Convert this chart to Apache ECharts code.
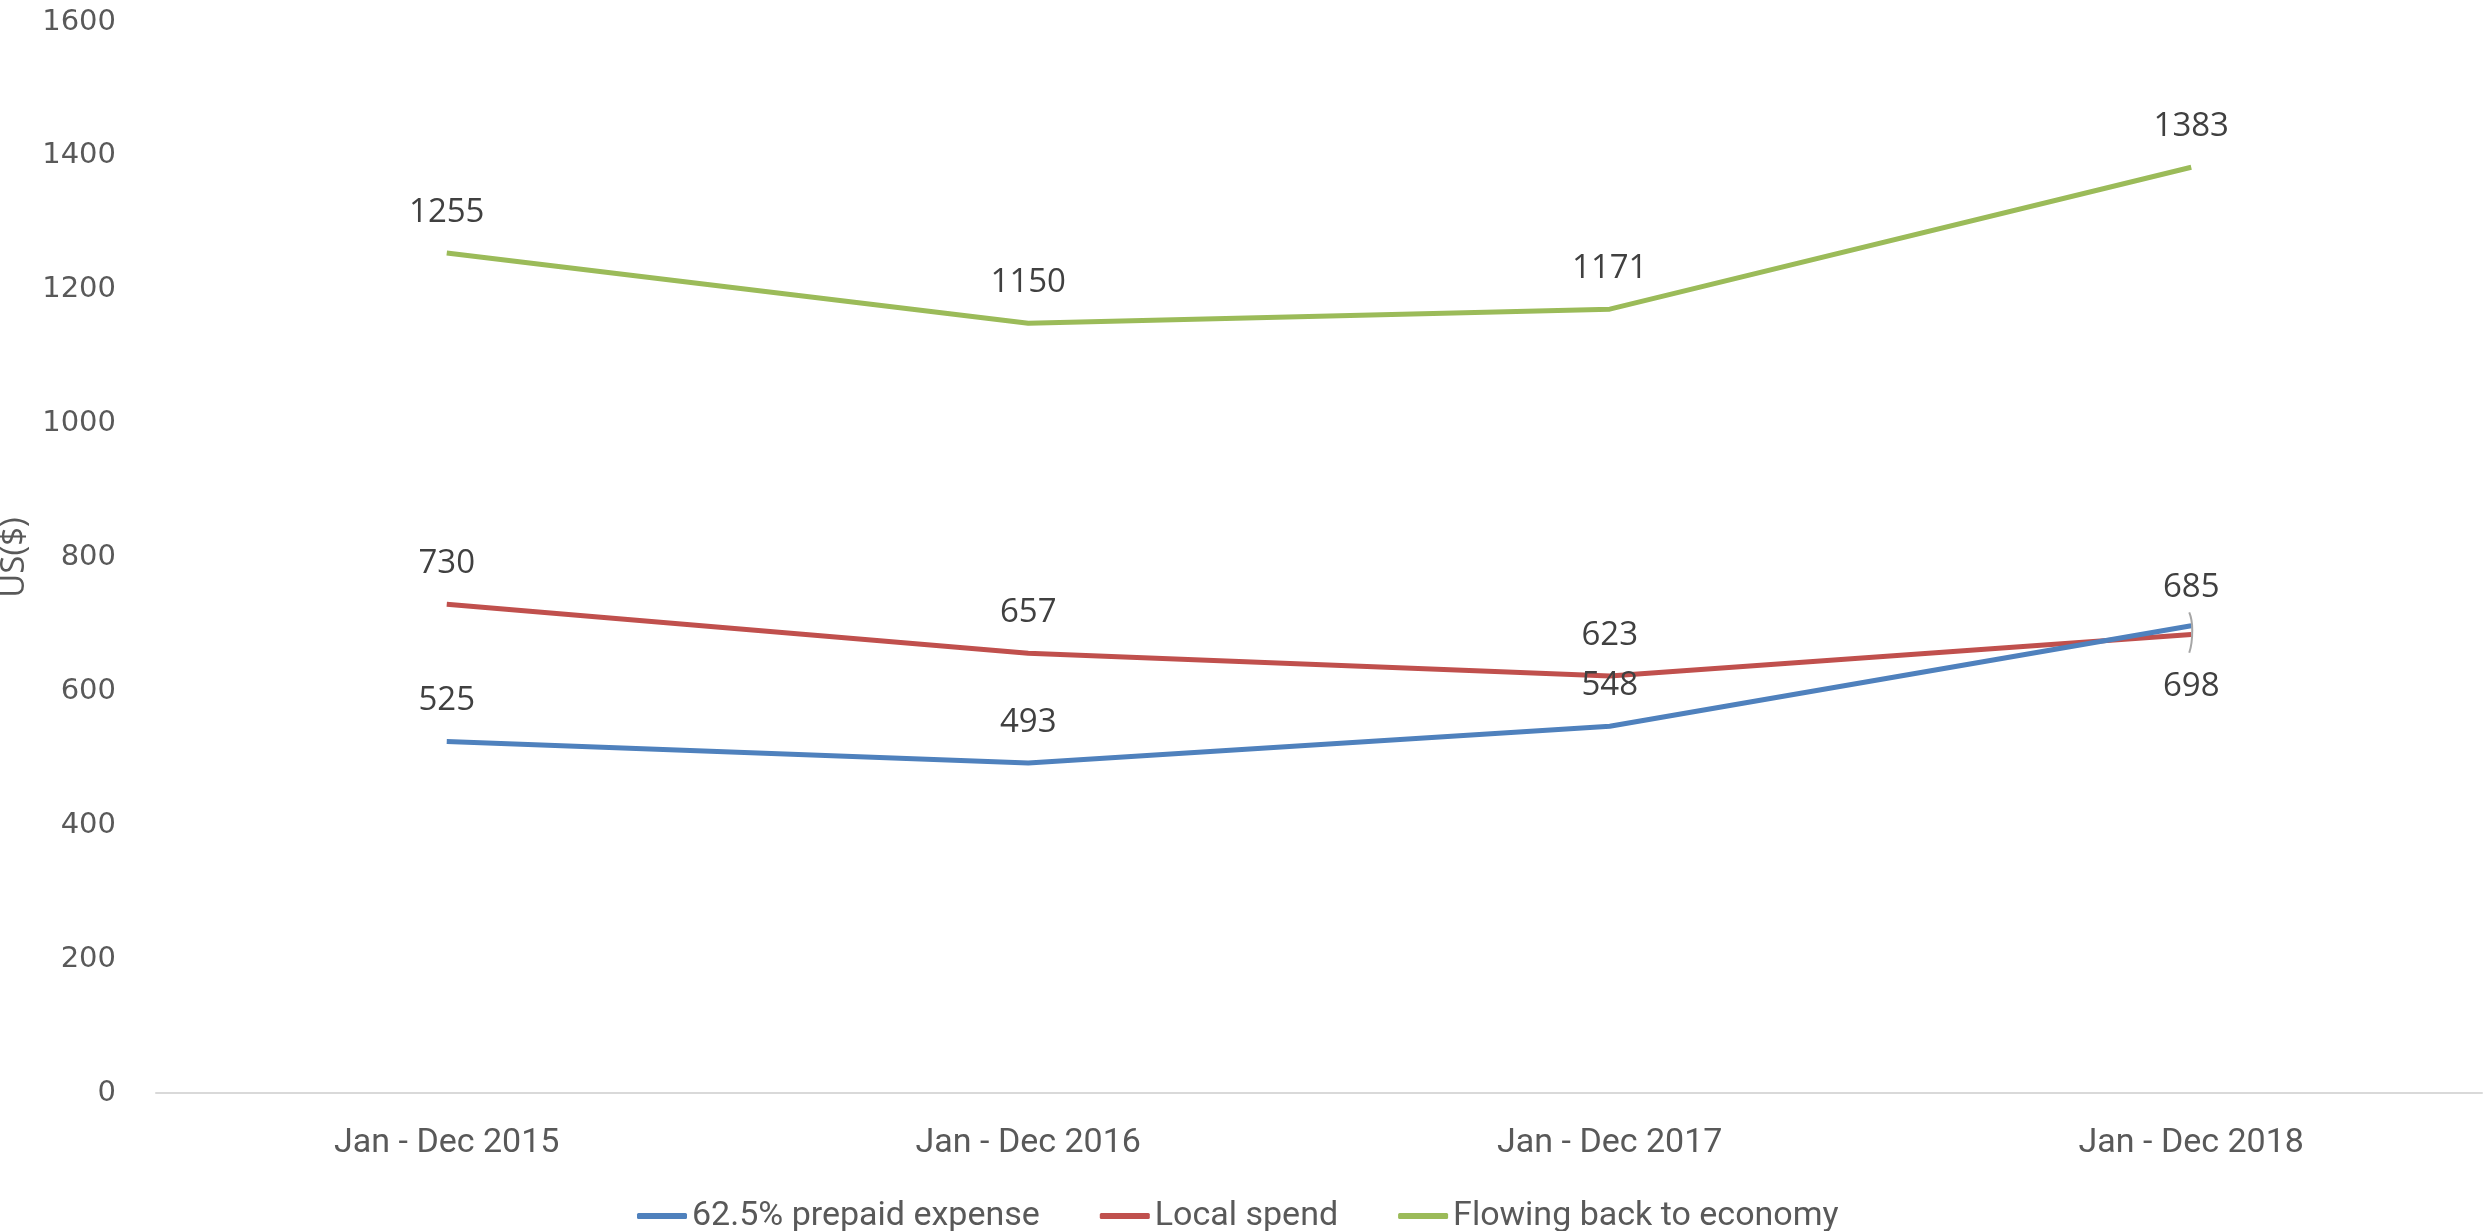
<!DOCTYPE html>
<html>
<head>
<meta charset="utf-8">
<script src="https://cdn.jsdelivr.net/npm/echarts@6/dist/echarts.min.js"></script>
<style>
  html, body { margin: 0; padding: 0; background: #fff; }
  #chart { width: 2484px; height: 1231px; }
</style>
</head>
<body>
<div id="chart"></div>
<script>
// Periods on the x axis
const periods = ['Jan - Dec 2015', 'Jan - Dec 2016', 'Jan - Dec 2017', 'Jan - Dec 2018'];
// Series values in US$
const prepaidExpense = [525, 493, 548, 698];
const localSpend = [730, 657, 623, 685];
const flowingBack = [1255, 1150, 1171, 1383];
// Y axis range
const yMin = 0, yMax = 1600, yStep = 200;

const labelFont = "'Open Sans', 'Noto Sans', sans-serif";
const textFont = "Roboto, sans-serif";

function dataLabel() {
  return {
    show: true,
    position: 'top',
    distance: 24,
    color: '#404040',
    fontFamily: labelFont,
    fontSize: 33
  };
}

const chart = echarts.init(document.getElementById('chart'));
chart.setOption({
  animation: false,
  grid: { left: 156, right: 2, top: 22, bottom: 138, outerBoundsMode: 'none', containLabel: false },
  legend: {
    bottom: -7,
    left: 632,
    itemWidth: 50,
    itemHeight: 6,
    itemGap: 60,
    icon: 'roundRect',
    textStyle: { color: '#595959', fontFamily: textFont, fontSize: 34 },
    data: ['62.5% prepaid expense', 'Local spend', 'Flowing back to economy']
  },
  xAxis: {
    type: 'category',
    data: periods,
    boundaryGap: true,
    axisLine: { lineStyle: { color: '#d9d9d9', width: 2 } },
    axisTick: { show: false },
    axisLabel: { color: '#595959', fontFamily: textFont, fontSize: 34, margin: 33 }
  },
  yAxis: {
    type: 'value',
    min: yMin, max: yMax, interval: yStep,
    name: 'US($)',
    nameLocation: 'middle',
    nameRotate: 90,
    nameGap: 124,
    nameTextStyle: { color: '#595959', fontFamily: labelFont, fontSize: 33 },
    axisLine: { show: false },
    axisTick: { show: false },
    splitLine: { show: false },
    axisLabel: {
      color: '#595959',
      fontFamily: "'DejaVu Sans', sans-serif",
      fontSize: 29,
      margin: 40,
      formatter: v => String(v)
    }
  },
  series: [
    {
      name: '62.5% prepaid expense',
      type: 'line',
      data: prepaidExpense.map((v, i) => i === 3
        ? { value: v, label: { position: 'bottom', distance: 44 } }
        : v),
      symbol: 'circle',
      symbolSize: 0.01,
      showSymbol: true,
      lineStyle: { color: '#4F81BD', width: 5 },
      itemStyle: { color: '#4F81BD' },
      label: dataLabel(),
      z: 3
    },
    {
      name: 'Local spend',
      type: 'line',
      data: localSpend.map((v, i) => i === 3
        ? { value: v, label: { distance: 30 } }
        : v),
      symbol: 'circle',
      symbolSize: 0.01,
      showSymbol: true,
      lineStyle: { color: '#C0504D', width: 5 },
      itemStyle: { color: '#C0504D' },
      label: dataLabel(),
      z: 2
    },
    {
      name: 'Flowing back to economy',
      type: 'line',
      data: flowingBack,
      symbol: 'circle',
      symbolSize: 0.01,
      showSymbol: true,
      lineStyle: { color: '#9BBB59', width: 5 },
      itemStyle: { color: '#9BBB59' },
      label: dataLabel(),
      z: 1
    }
  ]
});

// Short grey leader strokes joining the crowded 2018 labels to their point
const leaderX = chart.convertToPixel({ xAxisIndex: 0 }, periods[3]);
const topY = chart.convertToPixel({ yAxisIndex: 0 }, localSpend[3]);
const botY = chart.convertToPixel({ yAxisIndex: 0 }, prepaidExpense[3]);
chart.setOption({
  graphic: [
    {
      type: 'polyline',
      shape: { points: [[leaderX - 2, topY - 22], [leaderX + 1, (topY + botY) / 2], [leaderX - 2, botY + 27]], smooth: 0.6 },
      style: { stroke: '#a6a6a6', lineWidth: 2, fill: null },
      z: 10
    }
  ]
});
</script>
</body>
</html>
